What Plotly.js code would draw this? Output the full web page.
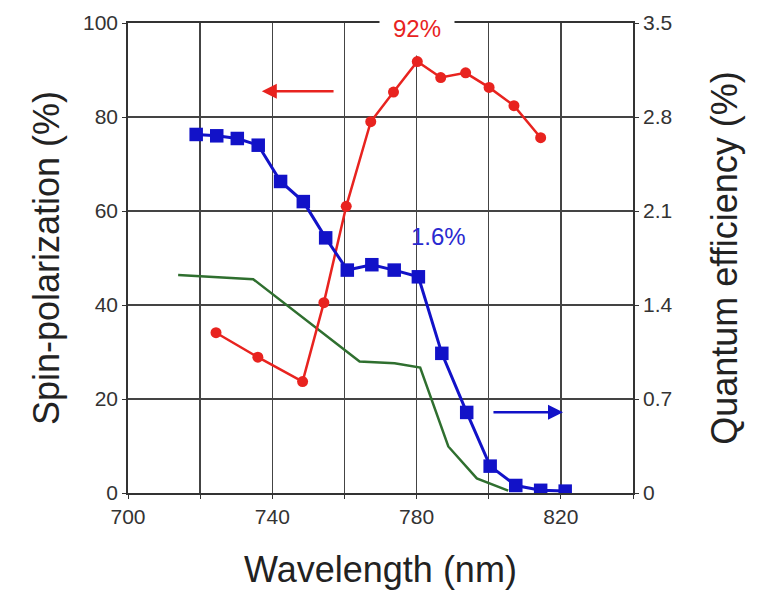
<!DOCTYPE html>
<html>
<head>
<meta charset="utf-8">
<script src="https://cdn.plot.ly/plotly-3.0.1.min.js"></script>
<style>html,body{margin:0;padding:0;background:#fff;}#chart{width:766px;height:592px;}</style>
</head>
<body>
<div id="chart"></div>
<script>
// Spin polarization (left axis, %)
const spinWavelength = [724.4, 736, 748.4, 754.3, 760.5, 767.3, 773.6, 780.2, 786.7, 793.6, 800.1, 807, 814.4];
const spinPolarization = [34.1, 28.9, 23.7, 40.5, 61, 79, 85.3, 91.8, 88.4, 89.4, 86.3, 82.4, 75.6];

// Quantum efficiency (right axis, %)
const qeWavelength = [718.9, 724.6, 730.3, 736.1, 742.3, 748.6, 754.8, 760.8, 767.6, 773.8, 780.5, 787, 793.9, 800.4, 807.5, 814.4, 821.2];
const quantumEfficiency = [2.67, 2.66, 2.64, 2.59, 2.32, 2.17, 1.90, 1.66, 1.70, 1.66, 1.61, 1.04, 0.60, 0.20, 0.056, 0.02, 0.014];

// Green reference curve (left-axis units)
const greenWavelength = [713.9, 734.7, 764.2, 773.9, 781, 788.8, 796.7, 805.4];
const greenValues = [46.4, 45.5, 28, 27.6, 26.7, 9.9, 3.1, 0.5];

// Tick labels (x grid every 20 nm, labels every 40 nm)
const xTickVals = [700, 720, 740, 760, 780, 800, 820, 840];
const xTickText = ['700', '', '740', '', '780', '', '820', ''];
const yTickVals = [0, 20, 40, 60, 80, 100];
const yTickText = ['0', '20', '40', '60', '80', '100'];
const y2TickVals = [0, 0.7, 1.4, 2.1, 2.8, 3.5];
const y2TickText = ['0', '0.7', '1.4', '2.1', '2.8', '3.5'];

const RED = '#e8231f', BLUE = '#1212c8', GREEN = '#2f6f2f', INK = '#333333', GRID = '#444444';
const FONT = 'Liberation Sans, Arial, sans-serif';

const traces = [
  {x: greenWavelength, y: greenValues, mode: 'lines', yaxis: 'y',
   line: {color: GREEN, width: 2.5}, hoverinfo: 'skip'},
  {x: spinWavelength, y: spinPolarization, mode: 'lines+markers', yaxis: 'y',
   line: {color: RED, width: 2.5}, marker: {color: RED, size: 11, symbol: 'circle'}},
  {x: qeWavelength, y: quantumEfficiency, mode: 'lines+markers', yaxis: 'y2',
   line: {color: BLUE, width: 3}, marker: {color: BLUE, size: 13.5, symbol: 'square'}}
];

const layout = {
  width: 766, height: 592,
  margin: {l: 128, r: 133, t: 23, b: 99},
  paper_bgcolor: '#fff', plot_bgcolor: '#fff',
  showlegend: false,
  font: {family: FONT, color: INK},
  xaxis: {
    range: [700, 840], tickvals: xTickVals, ticktext: xTickText,
    showgrid: true, gridcolor: GRID, gridwidth: 1.5,
    showline: true, linecolor: INK, linewidth: 1.8, mirror: true,
    ticks: 'outside', ticklen: 4, tickcolor: INK,
    tickfont: {size: 21, color: INK, family: FONT},
    zeroline: false,
    title: {text: 'Wavelength (nm)', font: {size: 36, color: '#222', family: FONT}, standoff: 30}
  },
  yaxis: {
    range: [0, 100], tickvals: yTickVals, ticktext: yTickText,
    showgrid: true, gridcolor: GRID, gridwidth: 1.5,
    showline: true, linecolor: INK, linewidth: 1.8,
    ticks: 'outside', ticklen: 4, tickcolor: INK,
    tickfont: {size: 21, color: INK, family: FONT},
    zeroline: false,
    title: {text: 'Spin-polarization (%)', font: {size: 36, color: '#222', family: FONT}, standoff: 12}
  },
  yaxis2: {
    range: [0, 3.5], overlaying: 'y', side: 'right',
    tickvals: y2TickVals, ticktext: y2TickText,
    showgrid: false, showline: true, linecolor: INK, linewidth: 1.8,
    ticks: 'outside', ticklen: 4, tickcolor: INK,
    tickfont: {size: 21, color: INK, family: FONT},
    zeroline: false,
    title: {text: 'Quantum efficiency (%)', font: {size: 36, color: '#222', family: FONT}, standoff: 40}
  },
  annotations: [
    {x: 780, y: 98.9, xref: 'x', yref: 'y', text: '92%', showarrow: false,
     font: {size: 24, color: RED, family: FONT}, bgcolor: '#fff', borderpad: 13},
    {x: 786, y: 54.5, xref: 'x', yref: 'y', text: '1.6%', showarrow: false,
     font: {size: 24, color: '#2a2ad0', family: FONT}},
    {x: 737.1, y: 85.5, ax: 757.4, ay: 85.5, xref: 'x', yref: 'y', axref: 'x', ayref: 'y',
     text: '', showarrow: true, arrowhead: 2, arrowsize: 1.2, arrowwidth: 2.5, arrowcolor: RED},
    {x: 820.6, y: 17.2, ax: 800.9, ay: 17.2, xref: 'x', yref: 'y', axref: 'x', ayref: 'y',
     text: '', showarrow: true, arrowhead: 2, arrowsize: 1.2, arrowwidth: 2.5, arrowcolor: BLUE}
  ]
};

Plotly.newPlot('chart', traces, layout, {displayModeBar: false, staticPlot: true});
</script>
</body>
</html>
